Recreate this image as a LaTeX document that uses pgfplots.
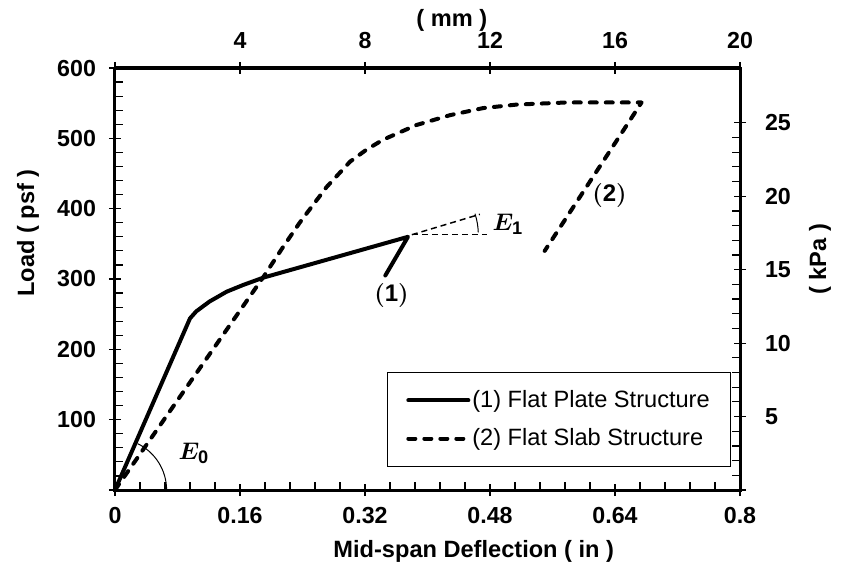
\documentclass[border=0pt]{standalone}
\usepackage{fontspec}
\setmainfont{Liberation Sans}
\usepackage{amsmath}
\usepackage{bm}
\usepackage{pgfplots}
\pgfplotsset{compat=1.18}
\begin{document}
\begin{tikzpicture}
\path[use as bounding box] (-57.5pt,-42pt) rectangle (368pt,245pt);
\begin{axis}[
  at={(0,0)}, anchor=south west, scale only axis,
  width=312.5pt, height=211pt,
  xmin=0, xmax=0.8, ymin=0, ymax=600,
  xtick={0,0.16,0.32,0.48,0.64,0.8},
  xticklabels={0,0.16,0.32,0.48,0.64,0.8},
  ytick={0,100,200,300,400,500,600},
  yticklabels={,100,200,300,400,500,600},
  minor x tick num=4, minor y tick num=4,
  xtick pos=bottom, ytick pos=left,
  tick align=center,
  major tick length=6pt, minor tick length=4pt,
  minor x tick style={yshift=2pt},
  minor y tick style={xshift=2pt},
  axis line style={line width=1.5pt},
  every tick/.style={black, line width=0.6pt},
  /pgf/number format/assume math mode=true,
  ticklabel style={font=\fontsize{11.6}{13}\selectfont\bfseries},
  xticklabel style={yshift=-2pt},
  yticklabel style={xshift=-3pt},
  label style={font=\fontsize{11.8}{13}\selectfont\bfseries},
  xlabel={Mid-span Deflection ( in )},
  ylabel={Load ( psf )},
  xlabel style={at={(axis description cs:0.574,-0.145)}, anchor=center},
  ylabel style={at={(axis description cs:-0.139,0.609)}, anchor=center},
  legend style={at={(axis description cs:0.986,0.28)}, anchor=north east,
    draw=black, line width=0.5pt, font=\fontsize{11.8}{13}\selectfont,
    inner xsep=9.5pt, inner ysep=8pt, row sep=7pt,
    nodes={inner sep=1pt}},
  legend cell align=left,
  legend image code/.code={\draw[#1] (0pt,0pt) -- (30pt,0pt);},
  clip=false,
]
\addplot[black, line width=2pt, line join=round, line cap=round] coordinates {
  (0,0) (0.096,244) (0.104,254) (0.121,268) (0.143,282) (0.164,291.5)
  (0.19,302) (0.375,360) (0.346,305)
};
\addlegendentry{(1) Flat Plate Structure}
\addplot[black, line width=2pt, line join=round, line cap=round,
  dash pattern=on 3.5pt off 4.5pt] coordinates {
  (0,0) (0.19,303) (0.2154,346) (0.237,381) (0.271,431) (0.301,467)
  (0.322,484) (0.343,498) (0.386,519) (0.429,533) (0.471,543)
  (0.514,548) (0.578,551) (0.674,551) (0.55,340)
};
\addlegendentry{(2) Flat Slab Structure}
\addplot[forget plot, black, line width=0.75pt, dash pattern=on 3pt off 2pt]
  coordinates {(0.38,363) (0.476,363)};
\addplot[forget plot, black, line width=0.75pt, dash pattern=on 3pt off 2pt]
  coordinates {(0.38,363) (0.467,392)};
\draw[line width=0.5pt] (axis cs:0,0) ++(25.8pt,0) arc[start angle=0, end angle=64, radius=25.8pt];
\draw[line width=0.5pt] (axis cs:0.378,363) ++(2:34pt) arc[start angle=2, end angle=18, radius=34pt];
\node[font=\fontsize{13}{15}\selectfont] at (axis cs:0.101,52) {$\boldsymbol{E}_{\mathbf{0}}$};
\node[font=\fontsize{13}{15}\selectfont] at (axis cs:0.503,378) {$\boldsymbol{E}_{\mathbf{1}}$};
\node[font=\fontsize{12}{14}\selectfont] at (axis cs:0.354,276) {$\bm{(}\mathbf{1}\bm{)}$};
\node[font=\fontsize{12}{14}\selectfont] at (axis cs:0.633,419) {$\bm{(}\mathbf{2}\bm{)}$};
\end{axis}
\begin{axis}[
  at={(0,0)}, anchor=south west, scale only axis,
  width=312.5pt, height=211pt,
  xmin=0, xmax=20, ymin=0, ymax=28.729,
  axis x line*=top, axis y line*=right,
  axis line style={-, line width=1.5pt},
  xtick={0,4,8,12,16,20}, xticklabels={,4,8,12,16,20},
  ytick={0,5,10,15,20,25}, yticklabels={,5,10,15,20,25},
  minor y tick num=4,
  tick align=center,
  major tick length=6pt, minor tick length=4pt,
  minor y tick style={xshift=-2pt},
  every tick/.style={black, line width=0.6pt},
  /pgf/number format/assume math mode=true,
  ticklabel style={font=\fontsize{11.6}{13}\selectfont\bfseries},
  xticklabel style={yshift=3pt},
  yticklabel style={xshift=6pt},
  label style={font=\fontsize{11.8}{13}\selectfont\bfseries},
  xlabel={( mm )},
  ylabel={( kPa )},
  xlabel style={at={(axis description cs:0.539,1.112)}, anchor=center},
  ylabel style={at={(axis description cs:1.128,0.547)}, anchor=center},
]
\end{axis}
\end{tikzpicture}
\end{document}
